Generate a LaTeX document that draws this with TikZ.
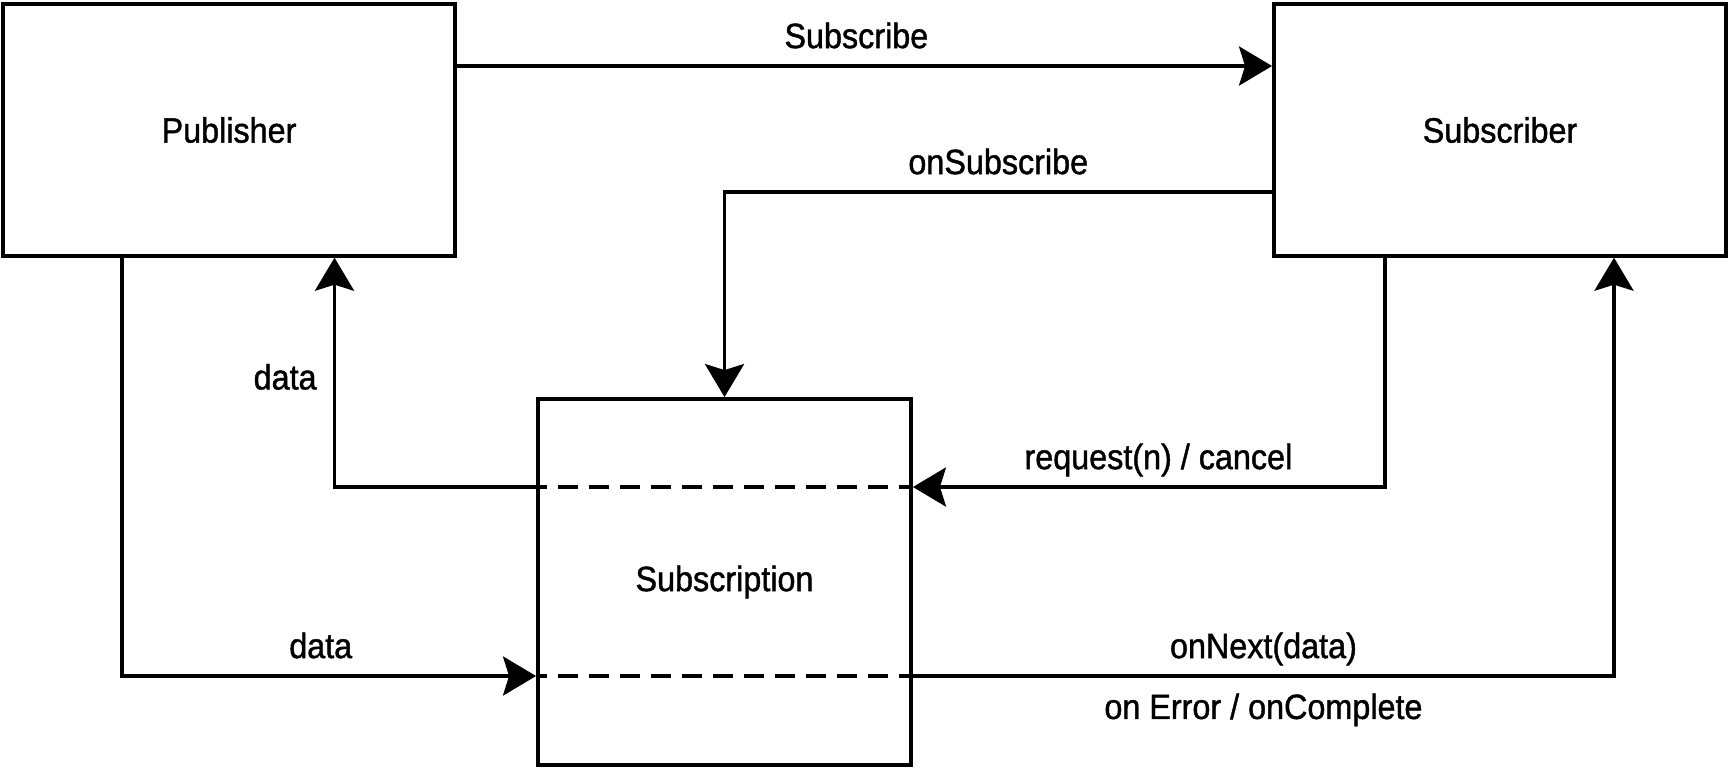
\documentclass[tikz,border=0pt]{standalone}
\usepackage{fontspec}
\setmainfont{Liberation Sans}[FakeStretch=0.92, FakeBold=1.2]
\usepackage{tikz}
\usetikzlibrary{arrows.meta}
\tikzset{node distance=4.52cm, auto,
   >={Stealth[length=0.33cm, width=0.39cm, inset=0.06cm]},
   box/.style={draw, line width=1.1pt, inner sep=0pt, minimum width=4.52cm, minimum height=2.515cm},
   lbl/.style={inner sep=0.16cm, text height=0.25cm, text depth=0pt},
   link/.style={->, line width=1.1pt},
   cut/.style={line width=1.1pt, dash pattern=on 0.2cm off 0.11cm, dash phase=0.09cm}}

\begin{document}
\begin{tikzpicture}
   \useasboundingbox (0,0) rectangle (17.29,-7.67);
   \node(pub) [box] at (2.29,-1.3) {Publisher};
   \node(sub) [box, right of=pub, node distance=12.71cm] {Subscriber};
   \node(subn) [box, minimum width=3.73cm, minimum height=3.66cm, below of=pub, xshift=4.955cm] {Subscription};
   \draw[cut] ([yshift=0.95cm]subn.west) -- ([yshift=0.95cm]subn.east);
   \draw[cut] ([yshift=-0.94cm]subn.west) -- ([yshift=-0.94cm]subn.east);
   \draw[link] ([yshift=0.64cm]pub.east) to node[lbl, above, pos=0.49] {Subscribe} ([yshift=0.64cm]sub.west);
   \draw[link] ([yshift=-0.62cm]sub.west) -| node[lbl, above, pos=0.25] {onSubscribe} (subn.north);
   \draw[link] ([yshift=0.95cm]subn.west) -| node[lbl, left, pos=0.74] {data} ([xshift=1.055cm]pub.south);
   \draw[link] ([xshift=-1.15cm]sub.south) |- node[lbl, above, pos=0.74] {request(n) / cancel} ([yshift=0.95cm]subn.east);
   \draw[link] ([xshift=-1.07cm]pub.south) |- node[lbl, above, pos=0.74] {data} ([yshift=-0.94cm]subn.west);
   \draw[link] ([yshift=-0.94cm]subn.east) -| node[lbl, above, pos=0.25] {onNext(data)}
      node[lbl, below, pos=0.25] {on Error / onComplete} ([xshift=1.14cm]sub.south);
\end{tikzpicture}
\end{document}
